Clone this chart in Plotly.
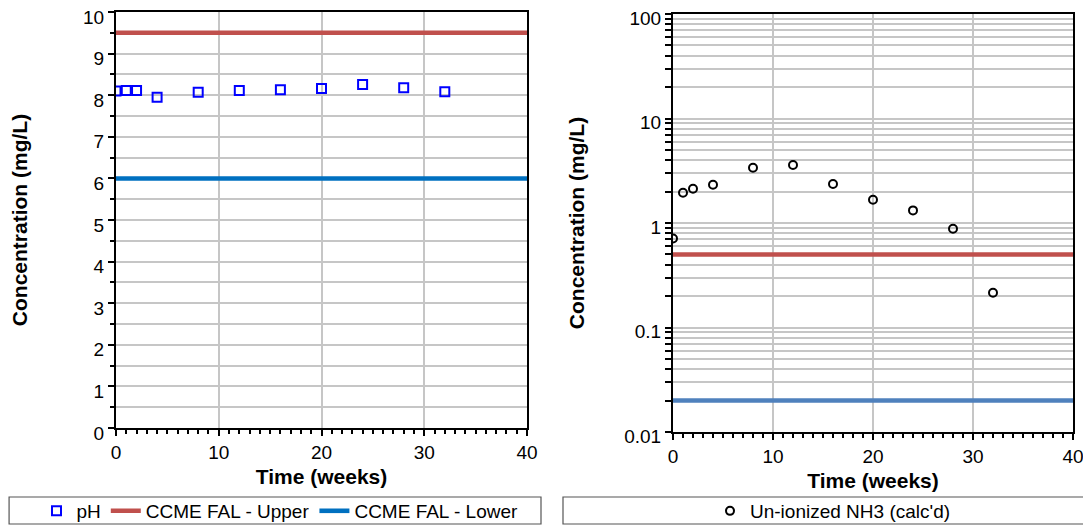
import plotly.graph_objects as go

weeks = [0, 1, 2, 4, 8, 12, 16, 20, 24, 28, 32]
ph_values = [8.10, 8.11, 8.11, 7.95, 8.07, 8.11, 8.13, 8.16, 8.26, 8.18, 8.08]
nh3_values = [0.71, 1.95, 2.13, 2.32, 3.38, 3.59, 2.36, 1.67, 1.32, 0.88, 0.215]
limit_x = [0, 40]
ph_upper = [9.5, 9.5]
ph_lower = [6.0, 6.0]
nh3_upper = [0.5, 0.5]
nh3_lower = [0.02, 0.02]

RED = "#C0504D"
BLUE_L = "#0070C0"
BLUE_R = "#4F81BD"
GRID = "#C6C6C6"
FONT = "Liberation Sans, Arial, sans-serif"

fig = go.Figure()

# Left chart
fig.add_trace(go.Scatter(x=weeks, y=ph_values, mode="markers", name="pH",
                         marker=dict(symbol="square-open", size=9, color="#0000FF", line=dict(width=2)),
                         xaxis="x", yaxis="y", legend="legend"))
fig.add_trace(go.Scatter(x=limit_x, y=ph_upper, mode="lines", name="CCME FAL - Upper",
                         line=dict(color=RED, width=4.5), xaxis="x", yaxis="y", legend="legend"))
fig.add_trace(go.Scatter(x=limit_x, y=ph_lower, mode="lines", name="CCME FAL - Lower",
                         line=dict(color=BLUE_L, width=4.5), xaxis="x", yaxis="y", legend="legend"))

# Right chart
fig.add_trace(go.Scatter(x=limit_x, y=nh3_upper, mode="lines", name="CCME FAL - Upper",
                         line=dict(color=RED, width=4.5), xaxis="x2", yaxis="y2", showlegend=False))
fig.add_trace(go.Scatter(x=limit_x, y=nh3_lower, mode="lines", name="CCME FAL - Lower",
                         line=dict(color=BLUE_R, width=4.5), xaxis="x2", yaxis="y2", showlegend=False))
fig.add_trace(go.Scatter(x=weeks, y=nh3_values, mode="markers", name="Un-ionized NH3 (calc'd)",
                         marker=dict(symbol="circle-open", size=8, color="#000000", line=dict(width=2)),
                         xaxis="x2", yaxis="y2", legend="legend2"))

# page body has an 8px margin: lay out in viewport pixels, shifted by OFF
OFF = 8
W, H = 1091 - OFF, 527 - OFF
def px(v): return max(0.0, (v - OFF) / W)
def py(v): return min(1.0, 1 - (v - OFF) / H)

axis_common = dict(showline=True, linecolor="black", linewidth=2, mirror=True,
                   tickfont=dict(family=FONT, size=19, color="black"),
                   ticks="outside", tickcolor="black", ticklen=6, tickwidth=1.5,
                   gridcolor=GRID, gridwidth=1.5, zeroline=False, automargin=False,
                   ticklabeloverflow="allow")

title_font = dict(family=FONT, size=21, color="black", weight="bold")

log_vals, log_text = [], []
for e in [-2, -1, 0, 1]:
    for m in range(1, 10):
        v = m * 10 ** e
        log_vals.append(v)
        log_text.append(("%g" % v) if m == 1 else "")
log_vals.append(100)
log_text.append("100")

fig.update_layout(
    width=W, height=H,
    margin=dict(l=0, r=0, t=0, b=0, autoexpand=False),
    paper_bgcolor="white", plot_bgcolor="white",
    font=dict(family=FONT, size=19, color="black"),
    xaxis=dict(domain=[px(116), px(527)], range=[0, 40], dtick=10, anchor="y",
               title=dict(text="Time (weeks)", font=title_font, standoff=8),
               minor=dict(dtick=1, ticks="outside", ticklen=4, tickcolor="black", showgrid=False),
               **axis_common),
    yaxis=dict(domain=[py(428), py(12)], range=[0, 10], dtick=1, anchor="x",
               ticklabelshift=5,
               title=dict(text="Concentration (mg/L)", font=title_font, standoff=54),
               minor=dict(dtick=0.5, ticks="outside", ticklen=4, tickcolor="black",
                          showgrid=True, gridcolor=GRID, gridwidth=1.5),
               **axis_common),
    xaxis2=dict(domain=[px(673), px(1073)], range=[0, 40], dtick=10, anchor="y2",
                title=dict(text="Time (weeks)", font=title_font, standoff=8),
                minor=dict(dtick=1, ticks="outside", ticklen=4, tickcolor="black", showgrid=False),
                **axis_common),
    yaxis2=dict(domain=[py(432), py(14)], type="log", range=[-2, 2], anchor="x2",
                tickmode="array", tickvals=log_vals, ticktext=log_text,
                ticklabelshift=4,
                title=dict(text="Concentration (mg/L)", font=title_font, standoff=34),
                **axis_common),
    legend=dict(orientation="h", x=px(280), xanchor="center", y=py(511), yanchor="middle",
                font=dict(family=FONT, size=19), bgcolor="rgba(0,0,0,0)",
                traceorder="normal"),
    legend2=dict(orientation="h", x=px(833), xanchor="center", y=py(511), yanchor="middle",
                 font=dict(family=FONT, size=19), bgcolor="rgba(0,0,0,0)"),
    shapes=[
        dict(type="rect", xref="paper", yref="paper", x0=px(2) + 0.001, x1=px(541), y0=py(524), y1=py(497),
             line=dict(color="#555555", width=1.2), fillcolor="rgba(0,0,0,0)", layer="below"),
        dict(type="rect", xref="paper", yref="paper", x0=px(563), x1=px(1089), y0=py(524), y1=py(497),
             line=dict(color="#555555", width=1.2), fillcolor="rgba(0,0,0,0)", layer="below"),
    ],
)

fig.write_html("out.html")
